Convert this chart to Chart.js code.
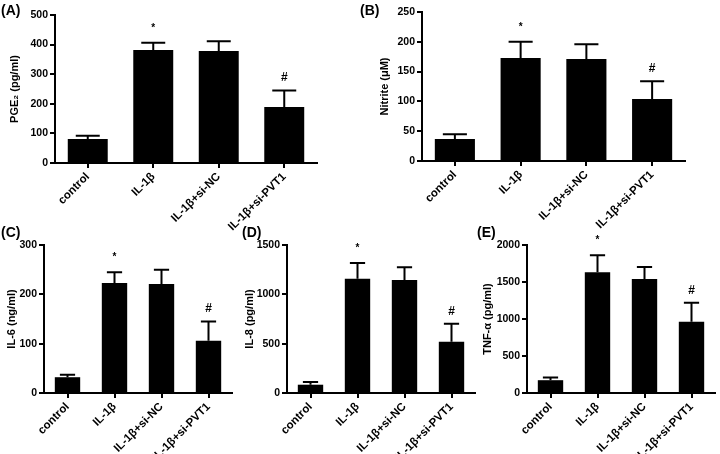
<!DOCTYPE html>
<html>
<head>
<meta charset="utf-8">
<script src="https://cdn.jsdelivr.net/npm/chart.js@4.4.0/dist/chart.umd.min.js"></script>
<style>
    body { margin: 0; background: #fff; width: 720px; height: 454px; position: relative; overflow: hidden; font-family: "Liberation Sans", Arial, sans-serif; }
    canvas { position: absolute; }
    .tag { position: absolute; font-weight: bold; font-size: 14px; color: #000; }
</style>
</head>
<body>
<canvas id="graficaPGE" width="330" height="232" style="left:0;top:0"></canvas>
<canvas id="graficaNitrito" width="330" height="232" style="left:360px;top:0"></canvas>
<canvas id="graficaIL6" width="240" height="222" style="left:0;top:232px"></canvas>
<canvas id="graficaIL8" width="240" height="222" style="left:240px;top:232px"></canvas>
<canvas id="graficaTNF" width="240" height="222" style="left:480px;top:232px"></canvas>

<div class="tag" style="left:1px;top:2px">(A)</div>
<div class="tag" style="left:360px;top:2px">(B)</div>
<div class="tag" style="left:1px;top:224px">(C)</div>
<div class="tag" style="left:242px;top:224px">(D)</div>
<div class="tag" style="left:477px;top:224px">(E)</div>

<script>
// grupos (eje x)
const grupos = ["control", "IL-1β", "IL-1β+si-NC", "IL-1β+si-PVT1"];
// marcas de significancia sobre cada barra
const marcas = ["", "*", "", "#"];

// (A) PGE2
const pgeMedia = [81, 382, 378, 189];
const pgeError = [11, 24, 33, 56];
// (B) Nitrito
const nitritoMedia = [37, 173, 171, 104];
const nitritoError = [8, 27, 25, 30];
// (C) IL-6
const il6Media = [32, 223, 221, 106];
const il6Error = [5, 22, 29, 39];
// (D) IL-8
const il8Media = [84, 1159, 1145, 520];
const il8Error = [27, 159, 129, 183];
// (E) TNF-α
const tnfMedia = [173, 1631, 1541, 962];
const tnfError = [38, 229, 162, 257];

const fuente = "'Liberation Sans', Arial, sans-serif";

function crearGrafica(id, tituloY, medias, errores, maximo, paso, caja) {
    const barrasError = {
        id: "barrasError",
        afterDatasetsDraw: function (chart) {
            const ctx = chart.ctx;
            const yScale = chart.scales.y;
            const meta = chart.getDatasetMeta(0);
            meta.data.forEach(function (barra, i) {
                const tope = yScale.getPixelForValue(medias[i] + errores[i]);
                const medio = barra.width * 0.3;
                ctx.save();
                ctx.strokeStyle = "#000";
                ctx.lineWidth = 2;
                ctx.beginPath();
                ctx.moveTo(barra.x, barra.y);
                ctx.lineTo(barra.x, tope);
                ctx.moveTo(barra.x - medio, tope);
                ctx.lineTo(barra.x + medio, tope);
                ctx.stroke();
                ctx.fillStyle = "#000";
                ctx.textAlign = "center";
                ctx.textBaseline = "alphabetic";
                if (marcas[i] == "*") {
                    ctx.font = "bold 10px " + fuente;
                    ctx.fillText(marcas[i], barra.x, tope - 12);
                } else if (marcas[i] == "#") {
                    ctx.font = "bold 12px " + fuente;
                    ctx.fillText(marcas[i], barra.x, tope - 9);
                }
                ctx.restore();
            });
        }
    };

    return new Chart(document.getElementById(id), {
        type: "bar",
        data: {
            labels: grupos,
            datasets: [
                {
                    data: medias,
                    backgroundColor: "#000",
                    borderWidth: 0,
                    categoryPercentage: 1,
                    barPercentage: caja.barra,
                },
            ],
        },
        options: {
            responsive: false,
            animation: false,
            layout: { padding: { top: caja.arriba, right: caja.derecha, left: 0, bottom: 0 } },
            plugins: { legend: { display: false }, tooltip: { enabled: false } },
            scales: {
                x: {
                    afterFit: function (scale) { scale.height = caja.altoX; },
                    grid: { offset: false, drawOnChartArea: false, tickLength: 5, color: "#000", lineWidth: 2 },
                    border: { display: true, color: "#000", width: 2 },
                    ticks: {
                        minRotation: 45,
                        maxRotation: 45,
                        color: "#000",
                        padding: 2,
                        font: { family: fuente, size: 11.5, weight: "bold" },
                    },
                },
                y: {
                    min: 0,
                    max: maximo,
                    afterFit: function (scale) { scale.width = caja.anchoY; },
                    grid: { drawOnChartArea: false, tickLength: 5, color: "#000", lineWidth: 2 },
                    border: { display: true, color: "#000", width: 2 },
                    ticks: {
                        stepSize: paso,
                        color: "#000",
                        padding: 2,
                        font: { family: fuente, size: 10.5, weight: "bold" },
                        callback: function (valor) { return String(valor); },
                    },
                    title: {
                        display: true,
                        text: tituloY,
                        color: "#000",
                        padding: { top: caja.titulo, bottom: 0 },
                        font: { family: fuente, size: 11, weight: "bold" },
                    },
                },
            },
        },
        plugins: [barrasError],
    });
}

crearGrafica("graficaPGE", "PGE₂ (pg/ml)", pgeMedia, pgeError, 500, 100,
    { arriba: 15, derecha: 13, anchoY: 55, altoX: 69, barra: 0.61, titulo: 8 });
crearGrafica("graficaNitrito", "Nitrite (μM)", nitritoMedia, nitritoError, 250, 50,
    { arriba: 12, derecha: 5, anchoY: 62, altoX: 71, barra: 0.61, titulo: 18 });
crearGrafica("graficaIL6", "IL-6 (ng/ml)", il6Media, il6Error, 300, 100,
    { arriba: 13, derecha: 8, anchoY: 44, altoX: 61, barra: 0.54, titulo: 5 });
crearGrafica("graficaIL8", "IL-8 (pg/ml)", il8Media, il8Error, 1500, 500,
    { arriba: 13, derecha: 5, anchoY: 47, altoX: 61, barra: 0.54, titulo: 3 });
crearGrafica("graficaTNF", "TNF-α (pg/ml)", tnfMedia, tnfError, 2000, 500,
    { arriba: 13, derecha: 5, anchoY: 47, altoX: 61, barra: 0.54, titulo: 1 });
</script>
</body>
</html>
